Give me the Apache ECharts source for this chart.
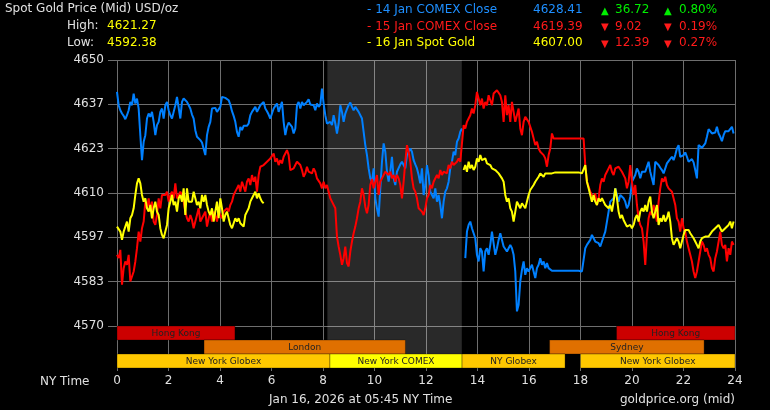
<!DOCTYPE html>
<html>
<head>
<meta charset="utf-8">
<title>Spot Gold Price (Mid) USD/oz</title>
<script src="https://cdn.jsdelivr.net/npm/echarts@6/dist/echarts.min.js"></script>
<style>
  html, body { margin: 0; padding: 0; background: #000; }
  #chart { width: 770px; height: 410px; }
</style>
</head>
<body>
<div id="chart"></div>
<script>
// one price every ~3.9 minutes, NY time, hour 0..24
const sampleMinutes = 3.883;

// 14 Jan COMEX close line (gap where the session changes at 13:25)
const comex14 = [
  4640.4, 4636.4, 4634.9, 4633.9, 4633.2, 4632.2, 4633.4, 4634.9, 4637.4, 4636.4,
  4639.9, 4636.9, 4638.4, 4635.4, 4627.4, 4619.9, 4625.4, 4627.4, 4632.4, 4633.9,
  4632.9, 4634.4, 4631.4, 4627.4, 4630.4, 4631.4, 4634.4, 4635.4, 4632.4, 4636.4,
  4637.4, 4634.9, 4633.4, 4632.4, 4634.4, 4636.4, 4638.9, 4638.4, 4632.4, 4637.4,
  4638.4, 4638.9, 4637.4, 4636.9, 4635.4, 4633.6, 4632.4, 4628.9, 4626.9, 4627.4,
  4625.9, 4625.2, 4624.9, 4621.4, 4627.4, 4629.9, 4631.4, 4635.4, 4635.9, 4635.6,
  4634.4, 4634.4, 4635.9, 4638.9, 4638.9, 4638.6, 4638.2, 4637.9, 4636.6, 4634.6,
  4633.2, 4631.4, 4628.4, 4626.9, 4629.9, 4628.9, 4630.2, 4629.9, 4630.2, 4630.9,
  4633.4, 4634.4, 4633.9, 4635.9, 4634.4, 4634.4, 4636.4, 4636.9, 4637.4, 4635.4,
  4634.6, 4633.6, 4632.4, 4633.9, 4635.4, 4636.2, 4636.9, 4634.4, 4635.9, 4637.4,
  4631.4, 4627.4, 4629.9, 4631.2, 4630.9, 4629.9, 4627.9, 4629.4, 4636.4, 4637.4,
  4635.4, 4637.4, 4636.4, 4636.9, 4637.4, 4638.2, 4636.6, 4636.4, 4636.4, 4634.9,
  4636.9, 4635.9, 4636.6, 4641.4, 4636.9, 4633.4, 4630.9, 4631.4, 4631.4, 4630.4,
  4633.4, 4630.9, 4627.9, 4630.9, 4636.4, 4634.4, 4631.4, 4633.9, 4635.2, 4636.4,
  4637.2, 4635.9, 4634.9, 4635.9, 4635.6, 4634.4, 4634.9, 4632.4, 4628.4, 4624.4,
  4621.4, 4617.4, 4614.4, 4613.4, 4617.4, 4608.4, 4605.4, 4602.9, 4611.4, 4619.4,
  4624.9, 4622.4, 4616.4, 4613.4, 4616.4, 4620.9, 4614.4, 4612.4, 4616.4, 4616.9,
  4618.6, 4619.4, 4619.4, 4617.4, 4621.4, 4622.4, 4623.4, 4622.4, 4619.9, 4618.6,
  4617.4, 4615.4, 4612.9, 4617.4, 4609.4, 4612.4, 4618.4, 4615.4, 4610.4, 4609.4,
  4608.4, 4611.4, 4607.4, 4609.4, 4606.4, 4602.4, 4607.4, 4610.4, 4611.4, 4613.4,
  4617.4, 4619.4, 4622.4, 4621.4, 4625.4, 4626.4, 4628.4, 4629.4, null, 4590.4,
  4598.4, 4600.4, 4601.4, 4599.4, 4597.9, 4596.4, 4591.4, 4589.4, 4593.4, 4592.4,
  4586.4, 4592.4, 4593.4, 4591.4, 4594.4, 4598.4, 4598.4, 4591.4, 4593.4, 4595.9,
  4597.9, 4597.4, 4593.9, 4593.4, 4592.4, 4593.4, 4594.4, 4593.4, 4591.4, 4586.4,
  4574.4, 4576.4, 4583.4, 4586.9, 4589.4, 4585.4, 4587.4, 4586.4, 4587.4, 4588.4,
  4586.4, 4584.4, 4587.4, 4588.4, 4590.4, 4588.4, 4589.4, 4587.4, 4588.9, 4587.4,
  4587.4, 4586.6, 4586.6, 4586.6, 4586.6, 4586.6, 4586.6, 4586.6, 4586.6, 4586.6,
  4586.6, 4586.6, 4586.6, 4586.6, 4586.6, 4586.6, 4586.6, 4586.6, 4586.6, 4586.4,
  4586.4, 4593.4, 4594.4, 4594.9, 4595.9, 4597.4, 4596.4, 4595.4, 4595.9, 4594.9,
  4593.9, 4595.4, 4596.9, 4598.4, 4601.4, 4604.4, 4607.4, 4607.4, 4608.4, 4611.4,
  4609.4, 4607.4, 4609.4, 4608.9, 4608.4, 4607.4, 4605.4, 4606.4, 4608.9, 4613.4,
  4613.4, 4615.4, 4617.4, 4616.4, 4614.4, 4616.4, 4615.9, 4616.4, 4617.9, 4619.4,
  4616.4, 4614.4, 4612.4, 4619.4, 4619.4, 4618.4, 4617.6, 4616.9, 4615.9, 4617.4,
  4618.9, 4619.6, 4620.2, 4620.9, 4619.9, 4621.4, 4623.4, 4624.4, 4620.9, 4621.4,
  4621.4, 4622.2, 4620.9, 4619.4, 4618.9, 4620.2, 4619.2, 4616.9, 4614.4, 4624.4,
  4623.9, 4623.6, 4624.2, 4624.9, 4626.9, 4629.2, 4629.2, 4627.9, 4627.6, 4628.2,
  4629.9, 4627.9, 4626.9, 4625.6, 4627.4, 4628.6, 4628.4, 4628.6, 4628.9, 4629.9, 4627.9
];

// 15 Jan COMEX close line
const comex15 = [
  4591.4, 4590.4, 4592.9, 4582.4, 4587.4, 4589.4, 4588.4, 4591.4, 4583.4, 4582.9,
  4586.4, 4589.4, 4593.4, 4598.4, 4595.4, 4599.4, 4601.4, 4607.4, 4605.4, 4608.4,
  4604.4, 4607.4, 4601.4, 4600.4, 4603.4, 4608.4, 4605.4, 4609.4, 4609.9, 4609.4,
  4610.4, 4607.4, 4609.4, 4610.4, 4608.4, 4612.9, 4608.4, 4609.4, 4610.4, 4609.4,
  4607.4, 4604.4, 4602.4, 4601.4, 4603.4, 4601.9, 4599.4, 4601.4, 4603.4, 4605.4,
  4601.4, 4602.4, 4603.4, 4604.4, 4599.9, 4602.4, 4604.4, 4601.4, 4604.4, 4603.4,
  4601.4, 4604.4, 4603.4, 4602.4, 4604.4, 4603.9, 4605.4, 4604.4, 4606.4, 4607.4,
  4609.4, 4610.4, 4611.4, 4612.4, 4610.4, 4613.4, 4611.9, 4610.4, 4613.4, 4614.4,
  4612.4, 4615.4, 4613.4, 4614.9, 4610.4, 4615.4, 4617.9, 4617.4, 4618.4, 4618.9,
  4619.4, 4619.4, 4620.4, 4620.4, 4621.9, 4619.4, 4620.4, 4618.4, 4619.9, 4618.9,
  4620.9, 4621.9, 4622.9, 4621.4, 4616.9, 4617.4, 4617.4, 4618.4, 4619.4, 4619.9,
  4618.4, 4616.9, 4614.9, 4615.9, 4617.9, 4616.4, 4616.9, 4615.9, 4617.4, 4616.4,
  4614.4, 4613.9, 4612.9, 4611.4, 4613.4, 4611.4, 4612.4, 4610.4, 4608.4, 4607.4,
  4606.9, 4605.4, 4596.9, 4593.9, 4591.4, 4588.4, 4590.4, 4593.9, 4588.9, 4587.9,
  4592.4, 4595.4, 4597.9, 4599.9, 4602.4, 4605.4, 4607.4, 4611.4, 4609.4, 4605.9,
  4603.9, 4606.4, 4612.4, 4614.2, 4611.4, 4613.4, 4615.4, 4609.4, 4613.4, 4614.4,
  4614.9, 4616.4, 4615.9, 4615.4, 4616.4, 4614.4, 4615.4, 4613.4, 4615.4, 4614.4,
  4612.4, 4608.4, 4613.4, 4619.4, 4624.4, 4622.4, 4619.4, 4614.4, 4611.4, 4610.4,
  4608.4, 4605.4, 4604.9, 4604.4, 4603.4, 4605.4, 4608.4, 4609.4, 4612.4, 4611.4,
  4613.4, 4612.9, 4615.4, 4614.4, 4616.9, 4615.4, 4616.4, 4616.9, 4615.9, 4618.4,
  4617.4, 4619.4, 4618.4, 4618.9, 4619.4, 4620.4, 4619.4, 4619.9, 4630.4, 4629.4,
  4631.4, 4632.4, 4633.4, 4635.4, 4633.9, 4636.4, 4640.4, 4638.4, 4636.4, 4638.4,
  4635.4, 4637.4, 4636.4, 4639.4, 4637.9, 4636.4, 4639.9, 4640.4, 4640.9, 4640.4,
  4639.4, 4637.4, 4631.4, 4639.4, 4633.4, 4636.4, 4631.4, 4637.4, 4634.4, 4631.4,
  4633.4, 4635.4, 4629.4, 4627.4, 4631.4, 4632.9, 4632.4, 4631.4, 4631.9, 4628.4,
  4628.4, 4624.4, 4625.4, 4623.4, 4622.4, 4622.9, 4621.4, 4620.4, 4617.9, 4621.4,
  4623.4, 4627.9, 4626.4, 4626.4, 4626.4, 4626.4, 4626.4, 4626.4, 4626.4, 4626.4,
  4626.4, 4626.4, 4626.4, 4626.4, 4626.4, 4626.4, 4626.4, 4626.4, 4626.4, 4626.4,
  4626.4, 4618.4, 4613.4, 4611.9, 4610.4, 4609.4, 4608.4, 4609.9, 4606.4, 4608.4,
  4612.4, 4614.4, 4613.4, 4615.4, 4616.4, 4617.4, 4618.4, 4616.4, 4615.4, 4617.4,
  4616.9, 4617.9, 4617.4, 4616.4, 4616.9, 4614.4, 4611.4, 4613.4, 4618.4, 4613.4,
  4609.4, 4612.4, 4606.4, 4602.4, 4600.4, 4599.4, 4595.4, 4588.4, 4597.4, 4602.4,
  4604.4, 4603.4, 4606.4, 4604.4, 4601.4, 4607.4, 4611.4, 4614.4, 4613.4, 4614.9,
  4612.4, 4611.4, 4610.9, 4610.4, 4608.4, 4606.4, 4602.4, 4601.4, 4598.4, 4602.4,
  4599.4, 4598.4, 4595.4, 4593.4, 4591.4, 4589.4, 4586.4, 4584.4, 4586.4, 4589.4,
  4592.4, 4595.4, 4594.4, 4592.4, 4593.4, 4591.4, 4590.4, 4587.4, 4586.4, 4590.4,
  4592.4, 4595.4, 4598.4, 4594.4, 4593.4, 4594.4, 4589.4, 4593.4, 4591.4, 4595.4, 4594.4
];

// 16 Jan spot gold: today so far, then the earlier part shown from 13:25
const spot16Early = [
  4599.9, 4599.9, 4598.4, 4595.9, 4598.4, 4599.9, 4601.4, 4598.4, 4602.4, 4603.4,
  4605.4, 4609.4, 4612.9, 4614.4, 4612.9, 4609.4, 4607.4, 4608.4, 4605.4, 4604.4,
  4606.4, 4602.4, 4605.4, 4607.4, 4604.4, 4603.4, 4599.4, 4597.4, 4596.4, 4598.4,
  4600.4, 4605.4, 4607.4, 4609.4, 4606.4, 4607.4, 4604.4, 4608.4, 4609.4, 4607.4,
  4611.4, 4603.4, 4611.4, 4607.4, 4607.9, 4607.4, 4610.4, 4608.4, 4606.4, 4607.4,
  4605.4, 4609.4, 4607.4, 4609.4, 4606.4, 4604.4, 4603.4, 4605.4, 4601.4, 4604.4,
  4607.4, 4602.4, 4608.4, 4605.4, 4601.4, 4603.4, 4604.4, 4602.4, 4600.4, 4599.4,
  4599.9, 4602.4, 4601.4, 4602.4, 4600.9, 4601.4, 4599.9, 4603.4, 4604.4, 4605.4,
  4607.4, 4608.4, 4609.4, 4610.4, 4608.4, 4609.9, 4608.4, 4607.4, 4606.9
];
const spot16LateStart = 208;
const spot16Late = [
  4616.9, 4618.4, 4616.4, 4619.4, 4617.4, 4618.4, 4616.9, 4617.9, 4620.4, 4619.4,
  4621.4, 4619.9, 4619.4, 4620.4, 4618.9, 4619.4, 4618.4, 4617.4, 4617.9, 4616.9,
  4616.4, 4615.9, 4615.4, 4614.4, 4613.4, 4609.4, 4607.4, 4608.4, 4605.4, 4604.4,
  4601.4, 4604.4, 4607.4, 4606.4, 4605.4, 4606.9, 4606.4, 4605.4, 4605.9, 4609.4,
  4610.9, 4611.4, 4612.4, 4613.4, 4613.9, 4614.9, 4615.9, 4615.4, 4614.9, 4615.9,
  4615.4, 4615.9, 4615.4, 4615.9, 4616.2, 4616.2, 4616.2, 4616.2, 4616.2, 4616.2,
  4616.2, 4616.2, 4616.2, 4616.2, 4616.2, 4616.2, 4616.2, 4616.2, 4616.2, 4616.2,
  4616.2, 4615.9, 4615.9, 4618.4, 4613.4, 4611.4, 4609.4, 4607.4, 4609.4, 4607.4,
  4606.4, 4608.4, 4607.4, 4608.4, 4607.4, 4606.4, 4606.4, 4605.4, 4606.4, 4604.4,
  4607.4, 4611.4, 4608.4, 4604.4, 4602.4, 4603.4, 4601.9, 4601.4, 4599.9, 4599.4,
  4600.4, 4599.4, 4600.4, 4602.4, 4603.4, 4601.4, 4604.4, 4605.4, 4604.4, 4606.4,
  4604.4, 4607.4, 4608.9, 4604.4, 4602.4, 4604.4, 4606.4, 4600.4, 4602.4, 4601.4,
  4603.4, 4601.4, 4602.4, 4604.4, 4601.4, 4596.4, 4594.4, 4595.4, 4596.4, 4595.4,
  4593.4, 4595.4, 4597.4, 4598.9, 4599.4, 4598.9, 4597.9, 4597.4, 4596.4, 4595.4,
  4594.4, 4593.4, 4595.4, 4596.4, 4595.9, 4596.9, 4596.4, 4596.9, 4597.4, 4598.4,
  4598.9, 4599.4, 4599.9, 4600.4, 4599.4, 4598.4, 4598.9, 4599.4, 4599.9, 4600.4,
  4601.4, 4599.4, 4601.4
];

const priceTicks = [4570, 4583, 4597, 4610, 4623, 4637, 4650];
const hourTicks = [0, 2, 4, 6, 8, 10, 12, 14, 16, 18, 20, 22, 24];

// trading sessions: start hour, end hour, row (2 = top), name
const sessions = [
  [0, 4.58, 2, 'Hong Kong'],
  [19.4, 24, 2, 'Hong Kong'],
  [3.38, 11.2, 1, 'London'],
  [16.8, 22.8, 1, 'Sydney'],
  [0, 8.27, 0, 'New York Globex'],
  [8.27, 13.4, 0, 'New York COMEX'],
  [13.4, 17.4, 0, 'NY Globex'],
  [18, 24, 0, 'New York Globex']
];
const comexShade = [8.17, 13.39];

const legendRows = [
  ['- 14 Jan COMEX Close', '4628.41', '▲', '36.72', '▲', '0.80%'],
  ['- 15 Jan COMEX Close', '4619.39', '▼', '9.02', '▼', '0.19%'],
  ['- 16 Jan Spot Gold', '4607.00', '▼', '12.39', '▼', '0.27%']
];
const highLow = [['High:', '4621.27'], ['Low:', '4592.38']];

const FONT = 'DejaVu Sans';
const gridColor = '#6e6e6e';
const lineColors = ['#0080ff', '#ff0000', '#ffff00'];
const legendColors = ['#1e8fff', '#ff1a1a', '#ffff00'];
const sessionColors = {
  'Hong Kong': '#cc0000',
  'London': '#e07000',
  'Sydney': '#e07000',
  'New York Globex': '#ffc800',
  'NY Globex': '#ffc800',
  'New York COMEX': '#ffff00'
};

function toPoints(values, startIndex) {
  return values.map((v, i) => [(startIndex + i) * sampleMinutes / 60, v]);
}

const spotPoints = toPoints(spot16Early, 0)
  .concat([[(spot16Early.length) * sampleMinutes / 60, null]])
  .concat(toPoints(spot16Late, spot16LateStart));

function txt(x, y, text, fill, align, size) {
  return {
    type: 'text', x: x, y: y, silent: true,
    style: {
      text: text, fill: fill, font: (size || 12) + 'px "' + FONT + '"',
      textAlign: align || 'left', textVerticalAlign: 'middle'
    }
  };
}

const graphics = [
  txt(5, 9, 'Spot Gold Price (Mid) USD/oz', '#e0e0e0'),
  txt(67, 26, highLow[0][0], '#e0e0e0'),
  txt(107, 26, highLow[0][1], '#ffff00'),
  txt(67, 43, highLow[1][0], '#e0e0e0'),
  txt(107, 43, highLow[1][1], '#ffff00'),
  txt(40, 382, 'NY Time', '#e0e0e0'),
  txt(269, 400, 'Jan 16, 2026 at 05:45 NY Time', '#e0e0e0'),
  txt(735, 400, 'goldprice.org (mid)', '#e0e0e0', 'right')
];
legendRows.forEach((row, i) => {
  const y = 10 + i * 16.5;
  const chgColor = row[2] === '▲' ? '#00ee00' : '#ff1a1a';
  graphics.push(txt(367, y, row[0], legendColors[i]));
  graphics.push(txt(533, y, row[1], legendColors[i]));
  graphics.push(txt(601, y + 1, row[2], chgColor, 'left', 10));
  graphics.push(txt(615, y, row[3], chgColor));
  graphics.push(txt(664, y + 1, row[4], chgColor, 'left', 10));
  graphics.push(txt(679, y, row[5], chgColor));
});

function lineSeries(name, data, color) {
  return {
    name: name, type: 'line', xAxisIndex: 0, yAxisIndex: 0,
    data: data, showSymbol: false, connectNulls: false, z: 3,
    lineStyle: { color: color, width: 2 }, itemStyle: { color: color },
    emphasis: { disabled: true }
  };
}

const option = {
  backgroundColor: '#000',
  animation: false,
  grid: [
    { left: 117, right: 35, top: 60, height: 266 },
    { left: 117, right: 35, top: 326, height: 42 }
  ],
  xAxis: [
    {
      gridIndex: 0, type: 'value', min: hourTicks[0], max: hourTicks[hourTicks.length - 1], interval: 2,
      axisLine: { show: false }, axisTick: { show: false }, axisLabel: { show: false },
      splitLine: { show: true, lineStyle: { color: gridColor, width: 1 } }
    },
    {
      gridIndex: 1, type: 'value', min: hourTicks[0], max: hourTicks[hourTicks.length - 1], interval: 2,
      axisLine: { show: false },
      axisTick: { show: true, length: 3, lineStyle: { color: gridColor } },
      axisLabel: { color: '#e0e0e0', fontFamily: FONT, fontSize: 12, margin: 7 },
      splitLine: { show: true, lineStyle: { color: gridColor, width: 1 } }
    }
  ],
  yAxis: [
    {
      gridIndex: 0, type: 'value', min: priceTicks[0], max: priceTicks[priceTicks.length - 1],
      interval: (priceTicks[priceTicks.length - 1] - priceTicks[0]) / (priceTicks.length - 1),
      axisLine: { show: false },
      axisTick: { show: true, length: 9, lineStyle: { color: gridColor } },
      axisLabel: {
        color: '#e0e0e0', fontFamily: FONT, fontSize: 12, margin: 13,
        formatter: v => String(priceTicks.reduce((a, b) => Math.abs(b - v) < Math.abs(a - v) ? b : a))
      },
      splitLine: { show: true, lineStyle: { color: gridColor, width: 1 } }
    },
    { gridIndex: 1, type: 'value', min: 0, max: 3, show: false }
  ],
  graphic: graphics,
  series: [
    {
      type: 'line', xAxisIndex: 0, yAxisIndex: 0, data: [], z: 1, silent: true,
      markArea: {
        silent: true, itemStyle: { color: 'rgba(255,255,255,0.16)' },
        data: [[{ xAxis: comexShade[0] }, { xAxis: comexShade[1] }]]
      }
    },
    {
      type: 'line', xAxisIndex: 1, yAxisIndex: 1, data: [], z: 1, silent: true,
      markArea: {
        silent: true, itemStyle: { color: 'rgba(255,255,255,0.16)' },
        data: [[{ xAxis: comexShade[0] }, { xAxis: comexShade[1] }]]
      }
    },
    {
      type: 'custom', xAxisIndex: 1, yAxisIndex: 1, z: 3, silent: true,
      data: sessions.map(s => [s[0], s[1], s[2]]),
      encode: { x: [0, 1], y: 2 },
      renderItem: function (params, api) {
        const s = sessions[params.dataIndex];
        const p0 = api.coord([api.value(0), api.value(2) + 1]);
        const p1 = api.coord([api.value(1), api.value(2)]);
        const w = p1[0] - p0[0];
        const h = p1[1] - p0[1];
        return {
          type: 'group',
          children: [
            {
              type: 'rect',
              shape: { x: p0[0], y: p0[1], width: w, height: h },
              style: { fill: sessionColors[s[3]], stroke: 'rgba(0,0,0,0.3)', lineWidth: 1 }
            },
            {
              type: 'text',
              style: {
                text: s[3], x: p0[0] + w / 2, y: p0[1] + h / 2 + 0.5,
                fill: '#222', font: '9px "' + FONT + '"',
                textAlign: 'center', textVerticalAlign: 'middle'
              }
            }
          ]
        };
      }
    },
    lineSeries('14 Jan COMEX Close', toPoints(comex14, 0), lineColors[0]),
    lineSeries('15 Jan COMEX Close', toPoints(comex15, 0), lineColors[1]),
    lineSeries('16 Jan Spot Gold', spotPoints, lineColors[2])
  ]
};

const chart = echarts.init(document.getElementById('chart'));
chart.setOption(option);
window.addEventListener('resize', () => chart.resize());
</script>
</body>
</html>
